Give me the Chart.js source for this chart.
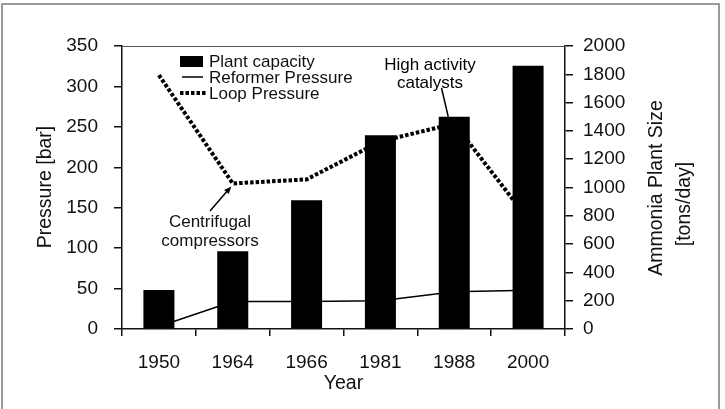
<!DOCTYPE html>
<html>
<head>
<meta charset="utf-8">
<script src="https://cdn.jsdelivr.net/npm/chart.js@4.4.1/dist/chart.umd.min.js"></script>
<style>
  html, body { margin: 0; padding: 0; background: #fff; }
  #chart { display: block; }
</style>
</head>
<body>
<canvas id="chart" width="725" height="409"></canvas>
<script>
const years = ['1950', '1964', '1966', '1981', '1988', '2000'];
const plantCapacity = [275, 550, 910, 1370, 1500, 1860];   // tons/day, right axis
const reformerPressure = [3, 34, 34, 35, 46, 48];          // bar, left axis
const loopPressure = [314, 180, 185, 232, 254, 136];       // bar, left axis
const pressureAxis = { min: 0, max: 350, step: 50 };
const sizeAxis = { min: 0, max: 2000, step: 200 };

const FONT = '"Liberation Sans", Arial, Helvetica, sans-serif';
const INK = '#111';

// frame, titles, legend and the two call-outs
const decorations = {
    id: 'decorations',
    afterDraw(chart) {
        const { ctx, chartArea: area, scales } = chart;
        const x = scales.x, y = scales.y, y1 = scales.y1;

        ctx.save();

        // outer frame
        ctx.strokeStyle = '#9a9a9a';
        ctx.lineWidth = 2;
        ctx.strokeRect(2, 4, 717, 420);

        // top edge of the plot box
        ctx.strokeStyle = '#555';
        ctx.lineWidth = 1;
        ctx.beginPath();
        ctx.moveTo(area.left, area.top + 0.5);
        ctx.lineTo(area.right, area.top + 0.5);
        ctx.stroke();

        // axis titles
        ctx.fillStyle = INK;
        ctx.textAlign = 'center';
        ctx.textBaseline = 'middle';
        ctx.font = `19.5px ${FONT}`;
        ctx.fillText('Year', (area.left + area.right) / 2, 384);

        rotatedText(ctx, 'Pressure [bar]', 46, 187);
        rotatedText(ctx, 'Ammonia Plant Size', 657, 188);
        rotatedText(ctx, '[tons/day]', 685, 204);

        // legend
        ctx.font = `17px ${FONT}`;
        ctx.textAlign = 'left';
        ctx.fillStyle = '#000';
        ctx.fillRect(180, 56, 23, 11);
        ctx.strokeStyle = '#000';
        ctx.lineWidth = 1.5;
        ctx.beginPath();
        ctx.moveTo(182, 77);
        ctx.lineTo(203, 77);
        ctx.stroke();
        ctx.lineWidth = 4;
        ctx.setLineDash([3.5, 2]);
        ctx.beginPath();
        ctx.moveTo(180, 93);
        ctx.lineTo(207, 93);
        ctx.stroke();
        ctx.setLineDash([]);
        ctx.fillStyle = INK;
        ctx.fillText('Plant capacity', 209, 62);
        ctx.fillText('Reformer Pressure', 209, 78);
        ctx.fillText('Loop Pressure', 209, 94);

        // "Centrifugal compressors" -> 1964 loop point
        const px = x.getPixelForValue(1);
        const py = y.getPixelForValue(loopPressure[1]);
        ctx.textAlign = 'center';
        ctx.fillText('Centrifugal', 210, 222);
        ctx.fillText('compressors', 210, 241);
        arrow(ctx, 210, 211, px - 1.5, py + 3);

        // "High activity catalysts" -> 1988 bar top
        const bx = x.getPixelForValue(4);
        const by = y1.getPixelForValue(plantCapacity[4]);
        ctx.fillText('High activity', 430, 65);
        ctx.fillText('catalysts', 430, 83);
        ctx.lineWidth = 1.5;
        ctx.beginPath();
        ctx.moveTo(441.5, 88);
        ctx.lineTo(bx - 6, by);
        ctx.stroke();

        ctx.restore();
    }
};

function rotatedText(ctx, text, cx, cy) {
    ctx.save();
    ctx.translate(cx, cy);
    ctx.rotate(-Math.PI / 2);
    ctx.fillText(text, 0, 0);
    ctx.restore();
}

function arrow(ctx, x0, y0, x1, y1) {
    const ang = Math.atan2(y1 - y0, x1 - x0);
    const len = 8;
    ctx.strokeStyle = '#000';
    ctx.fillStyle = '#000';
    ctx.lineWidth = 1.5;
    ctx.beginPath();
    ctx.moveTo(x0, y0);
    ctx.lineTo(x1 - Math.cos(ang) * len * 0.6, y1 - Math.sin(ang) * len * 0.6);
    ctx.stroke();
    ctx.beginPath();
    ctx.moveTo(x1, y1);
    ctx.lineTo(x1 - len * Math.cos(ang - 0.4), y1 - len * Math.sin(ang - 0.4));
    ctx.lineTo(x1 - len * Math.cos(ang + 0.4), y1 - len * Math.sin(ang + 0.4));
    ctx.closePath();
    ctx.fill();
}

function axisStyle(tickLength, padding) {
    return {
        grid: { drawOnChartArea: false, drawTicks: true, tickLength: tickLength, color: INK, lineWidth: 1.5 },
        border: { display: true, color: INK, width: 1.5 },
        ticks: { color: INK, font: { family: FONT, size: 19 }, padding: padding }
    };
}

function displayChart($ctx) {
    const xAxis = axisStyle(7, 15);
    const yAxis = axisStyle(8, 16);
    const y1Axis = axisStyle(8, 10);
    const plain = v => String(v);

    new Chart($ctx, {
        type: 'bar',
        data: {
            labels: years,
            datasets: [{
                label: 'Plant capacity',
                data: plantCapacity,
                yAxisID: 'y1',
                backgroundColor: '#000',
                categoryPercentage: 1,
                barPercentage: 0.42,
                order: 0
            }, {
                type: 'line',
                label: 'Reformer Pressure',
                data: reformerPressure,
                yAxisID: 'y',
                borderColor: '#000',
                borderWidth: 1.5,
                pointRadius: 0,
                tension: 0,
                order: 1
            }, {
                type: 'line',
                label: 'Loop Pressure',
                data: loopPressure,
                yAxisID: 'y',
                borderColor: '#000',
                borderWidth: 4,
                borderDash: [3.5, 2],
                pointRadius: 0,
                tension: 0,
                order: 2
            }]
        },
        options: {
            responsive: false,
            animation: false,
            devicePixelRatio: 1,
            layout: { padding: { top: 46, left: 0, right: 0, bottom: 0 } },
            plugins: { legend: { display: false }, tooltip: { enabled: false } },
            scales: {
                x: Object.assign(xAxis, {
                    afterFit: s => { s.height = 80; }
                }),
                y: Object.assign(yAxis, {
                    position: 'left',
                    min: pressureAxis.min,
                    max: pressureAxis.max,
                    ticks: Object.assign(yAxis.ticks, { stepSize: pressureAxis.step, callback: plain }),
                    afterFit: s => { s.width = 122; }
                }),
                y1: Object.assign(y1Axis, {
                    position: 'right',
                    min: sizeAxis.min,
                    max: sizeAxis.max,
                    ticks: Object.assign(y1Axis.ticks, { stepSize: sizeAxis.step, callback: plain }),
                    afterFit: s => { s.width = 160; }
                })
            }
        },
        plugins: [decorations]
    });
}

document.addEventListener('DOMContentLoaded', function() {
    displayChart(document.getElementById('chart'));
}, false);
</script>
</body>
</html>
